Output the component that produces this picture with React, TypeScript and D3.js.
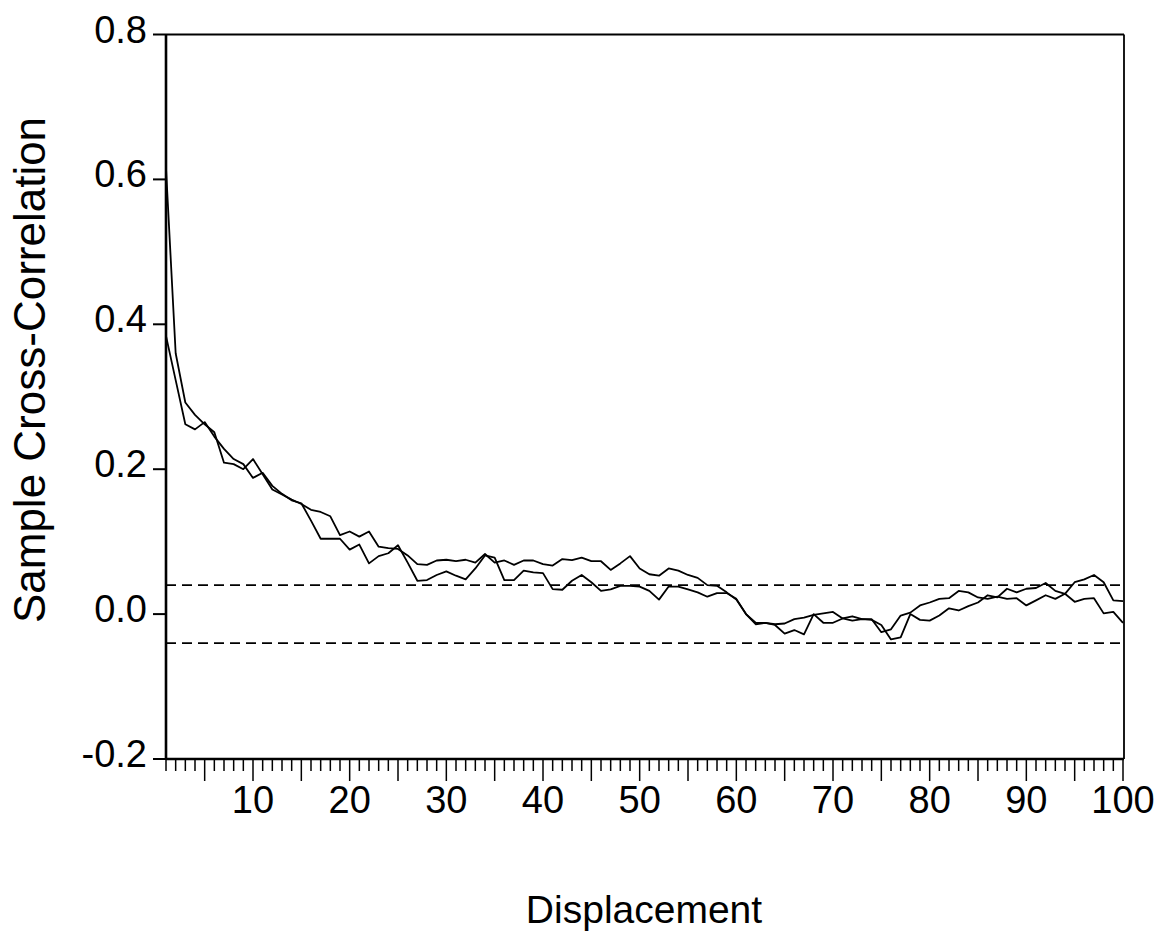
import React from 'react';
import * as d3 from 'd3';

// ---- data ----
const displacement: number[] = d3.range(1, 101);

const series1: number[] = [
  0.615, 0.360, 0.292, 0.275, 0.262, 0.251, 0.209, 0.207, 0.200, 0.214,
  0.193, 0.172, 0.165, 0.158, 0.152, 0.144, 0.141, 0.135, 0.109, 0.114,
  0.107, 0.114, 0.093, 0.091, 0.090, 0.081, 0.069, 0.068, 0.074, 0.075,
  0.073, 0.075, 0.071, 0.083, 0.071, 0.074, 0.068, 0.074, 0.074, 0.069,
  0.067, 0.076, 0.0745, 0.078, 0.073, 0.073, 0.061, 0.070, 0.080, 0.063,
  0.055, 0.053, 0.063, 0.060, 0.054, 0.050, 0.040, 0.039, 0.030, 0.020,
  0.000, -0.012, -0.012, -0.014, -0.013, -0.007, -0.005, -0.001, 0.001, 0.003,
  -0.006, -0.009, -0.007, -0.008, -0.015, -0.035, -0.032, 0.000, -0.008, -0.009,
  -0.002, 0.008, 0.005, 0.011, 0.016, 0.026, 0.023, 0.035, 0.030, 0.035,
  0.036, 0.043, 0.032, 0.028, 0.044, 0.048, 0.054, 0.044, 0.019, 0.018,
];

const series2: number[] = [
  0.384, 0.323, 0.262, 0.255, 0.265, 0.245, 0.228, 0.214, 0.207, 0.188,
  0.195, 0.177, 0.166, 0.157, 0.153, 0.129, 0.104, 0.104, 0.104, 0.089,
  0.096, 0.070, 0.080, 0.084, 0.095, 0.071, 0.046, 0.047, 0.054, 0.059,
  0.053, 0.048, 0.063, 0.081, 0.078, 0.047, 0.047, 0.060, 0.0575, 0.0566,
  0.0345, 0.0336, 0.046, 0.054, 0.044, 0.032, 0.034, 0.039, 0.039, 0.038,
  0.032, 0.020, 0.038, 0.038, 0.034, 0.030, 0.024, 0.029, 0.029, 0.021,
  0.000, -0.014, -0.012, -0.015, -0.027, -0.022, -0.028, 0.000, -0.012, -0.012,
  -0.006, -0.003, -0.007, -0.007, -0.025, -0.021, -0.002, 0.002, 0.012, 0.016,
  0.021, 0.022, 0.032, 0.030, 0.023, 0.021, 0.024, 0.021, 0.022, 0.012,
  0.019, 0.026, 0.021, 0.028, 0.017, 0.021, 0.022, 0.001, 0.003, -0.012,
];

const yTickValues: number[] = [-0.2, 0.0, 0.2, 0.4, 0.6, 0.8];
const yTickLabels: string[] = ['-0.2', '0.0', '0.2', '0.4', '0.6', '0.8'];
const xTickLabels: number[] = [10, 20, 30, 40, 50, 60, 70, 80, 90, 100];
const bandLevels: number[] = [0.04, -0.04];

const xTitle = 'Displacement';
const yTitle = 'Sample Cross-Correlation';

// ---- layout ----
const W = 1167;
const H = 936;
const left = 166;
const right = 1123;
const top = 34.5;
const bottom = 759;
const FONT = "'Liberation Sans', Arial, Helvetica, sans-serif";

export default function App() {
  const x = d3.scaleLinear().domain([1, 100]).range([left, right]);
  const y = d3.scaleLinear().domain([-0.2, 0.8]).range([bottom, top]);

  const line = d3
    .line<number>()
    .x((_, i) => x(displacement[i]))
    .y((d) => y(d));

  return (
    <svg
      width={W}
      height={H}
      viewBox={`0 0 ${W} ${H}`}
      style={{ position: 'absolute', left: 0, top: 0, background: '#fff' }}
    >
      <rect x={0} y={0} width={W} height={H} fill="#fff" />

      {/* confidence band */}
      {bandLevels.map((b, i) => (
        <line
          key={'b' + i}
          x1={left}
          x2={right}
          y1={y(b)}
          y2={y(b)}
          stroke="#000"
          strokeWidth={1.6}
          strokeDasharray="10,6"
        />
      ))}

      {/* series */}
      <path d={line(series2) || ''} fill="none" stroke="#000" strokeWidth={1.8} strokeLinejoin="round" />
      <path d={line(series1) || ''} fill="none" stroke="#000" strokeWidth={1.8} strokeLinejoin="round" />

      {/* frame */}
      <line x1={left} x2={right + 1} y1={top} y2={top} stroke="#000" strokeWidth={1.8} />
      <line x1={right + 1} x2={right + 1} y1={top} y2={bottom} stroke="#000" strokeWidth={1.8} />
      <line x1={left} x2={left} y1={top} y2={bottom} stroke="#000" strokeWidth={2.6} />
      <line x1={left} x2={right + 1} y1={bottom} y2={bottom} stroke="#000" strokeWidth={2.4} />

      {/* x ticks */}
      {displacement.map((t) => {
        const major = t % 5 === 0;
        return (
          <line
            key={'xt' + t}
            x1={x(t)}
            x2={x(t)}
            y1={bottom}
            y2={bottom + (major ? 22 : 12)}
            stroke="#000"
            strokeWidth={1.5}
          />
        );
      })}
      {xTickLabels.map((t) => (
        <text
          key={'xl' + t}
          x={x(t)}
          y={813}
          textAnchor="middle"
          fontFamily={FONT}
          fontSize={38}
          fill="#000"
        >
          {t}
        </text>
      ))}

      {/* y ticks */}
      {yTickValues.map((t, i) => (
        <g key={'yt' + i}>
          <line x1={left - 13} x2={left} y1={y(t)} y2={y(t)} stroke="#000" strokeWidth={2} />
          <text
            x={147}
            y={y(t) + 8}
            textAnchor="end"
            fontFamily={FONT}
            fontSize={38}
            fill="#000"
          >
            {yTickLabels[i]}
          </text>
        </g>
      ))}

      {/* titles */}
      <text x={644} y={923} textAnchor="middle" fontFamily={FONT} fontSize={39} fill="#000">
        {xTitle}
      </text>
      <text
        transform={`translate(45, 370) rotate(-90)`}
        textAnchor="middle"
        fontFamily={FONT}
        fontSize={44}
        fill="#000"
      >
        {yTitle}
      </text>
    </svg>
  );
}
